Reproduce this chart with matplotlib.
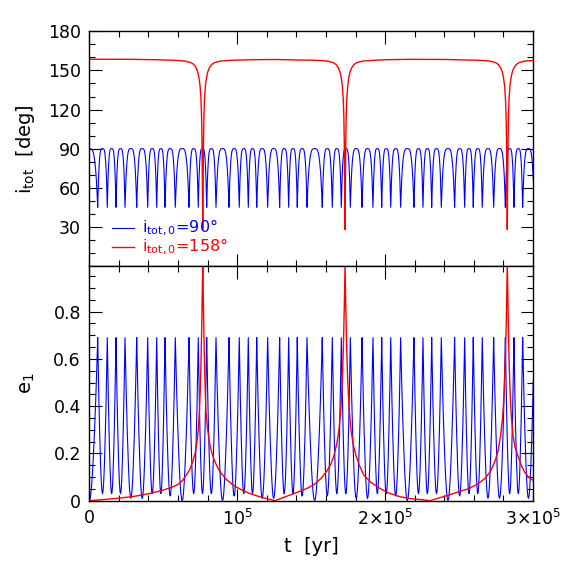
import matplotlib
matplotlib.use("Agg")
import matplotlib.pyplot as plt
import numpy as np
from matplotlib.ticker import MultipleLocator

plt.rcParams["font.family"] = ["DejaVu Sans"]
plt.rcParams["mathtext.fontset"] = "dejavusans"

# --- data (time in units of 1e3 yr) ---
# blue run (i_tot,0 = 90 deg): times of the e1 maxima
blue_peak_t = [5.68, 12.17, 18.05, 24.14, 32.05, 39.48, 45.57, 51.18, 58.15, 67.41,
               73.69, 79.37, 85.66, 94.45, 101.4, 107.5, 113.2, 120.6, 128.7, 134.8,
               140.6, 147.2, 157.5, 164.3, 170.4, 176.5, 184.4, 191.8, 197.7, 203.8,
               210.5, 219.5, 225.6, 231.5, 238.0, 247.0, 253.8, 259.6, 265.7, 273.4,
               281.3, 287.1, 293.0]
blue_edge_peaks = [-5.68, 300.8]          # cycles cut by the axis edges
blue_e_trough = [0.0,
                 0.03, 0.03, 0.03, 0.01, 0.01, 0.03, 0.03, 0.02, 0.0, 0.03,
                 0.03, 0.03, 0.0, 0.02, 0.03, 0.03, 0.01, 0.01, 0.03, 0.03,
                 0.02, 0.0, 0.02, 0.03, 0.03, 0.01, 0.01, 0.03, 0.03, 0.02,
                 0.0, 0.03, 0.03, 0.03, 0.0, 0.02, 0.03, 0.03, 0.01, 0.01,
                 0.03, 0.03,
                 0.01]
blue_e_max = 0.69
blue_i_top = 90.0
blue_i_bottom = 45.0

# shape of one half cycle (peak -> trough)
half_u = [0.0, 0.04, 0.08, 0.12, 0.16, 0.20, 0.25, 0.30, 0.35, 0.40, 0.45, 0.50]
half_e = [1.0, 0.86, 0.73, 0.61, 0.50, 0.40, 0.29, 0.19, 0.11, 0.05, 0.012, 0.0]
half_i = [1.0, 0.74, 0.53, 0.37, 0.25, 0.16, 0.08, 0.036, 0.012, 0.0025, 0.0, 0.0]

# red run (i_tot,0 = 158 deg)
red_e_t = [0, 10, 20.3, 30, 40.6, 50, 55, 59.8, 63, 65.4, 67.8, 69.9, 71.5, 72.8, 73.7,
           74.4, 75.0, 75.5, 75.9, 76.3, 76.7, 77.1, 77.5, 77.9, 78.4, 78.9, 80.0,
           81.6, 83.2, 85.0, 87.0, 89.5, 93.0, 97.4, 102.5, 108.6, 116.0, 125.6,
           134.0, 142.5, 147.5, 151.9, 156.5, 160.9, 163.3, 165.4, 167.3, 168.8,
           170.1, 171.1, 171.8, 172.4, 172.9, 173.4, 174.0, 174.7, 175.7, 176.9,
           178.4, 180.3, 182.6, 185.7, 190.5, 197.0, 203.0, 210.5, 218.0, 226.3,
           230.4, 236.0, 242.5, 249.0, 256.0, 262.0, 267.3, 271.0, 274.1, 276.4,
           278.1, 279.4, 280.4, 281.2, 281.9, 282.6, 283.3, 283.9, 284.6, 285.4,
           286.5, 287.9, 289.8, 292.0, 294.4, 297.0, 300.0]
red_e = [0.0, 0.005, 0.011, 0.018, 0.03, 0.045, 0.055, 0.068, 0.085, 0.107, 0.13,
         0.164, 0.2, 0.248, 0.3, 0.375, 0.46, 0.58, 0.7, 0.85, 0.998, 0.85, 0.7, 0.58,
         0.46, 0.375, 0.3, 0.234, 0.195, 0.164, 0.137, 0.114, 0.088, 0.065, 0.047,
         0.03, 0.015, 0.0,
         0.02, 0.04, 0.053, 0.068, 0.093, 0.128, 0.155, 0.19, 0.24, 0.30,
         0.39, 0.51, 0.65, 0.82, 0.998, 0.82, 0.65, 0.51, 0.39, 0.30,
         0.24, 0.19, 0.15, 0.107, 0.077, 0.05, 0.031, 0.016, 0.008, 0.003,
         0.0, 0.011, 0.023, 0.036, 0.05, 0.068, 0.093, 0.122, 0.164, 0.21,
         0.276, 0.35, 0.446, 0.57, 0.75, 0.998, 0.75, 0.57, 0.446, 0.35,
         0.276, 0.225, 0.19, 0.15, 0.12, 0.1, 0.086]
red_i_t = [0, 30, 45,
           56.7, 64.7, 68.7, 70.7, 72.2, 73.4, 74.2, 74.9, 75.5, 75.9, 76.2, 76.45,
           76.7, 76.95, 77.2, 77.5, 77.9, 78.5, 79.2, 80.0, 81.2, 82.7, 84.7, 88.7, 96.7,
           110, 125, 140,
           152.9, 160.9, 164.9, 166.9, 168.4, 169.6, 170.4, 171.1, 171.7, 172.1, 172.4,
           172.65, 172.9, 173.15, 173.4, 173.7, 174.1, 174.7, 175.4, 176.2, 177.4,
           178.9, 180.9, 184.9, 192.9,
           200, 215, 240, 255,
           262.6, 270.6, 274.6, 276.6, 278.1, 279.3, 280.1, 280.8, 281.4, 281.8, 282.1,
           282.35, 282.6, 282.85, 283.1, 283.4, 283.8, 284.4, 285.1, 285.9, 287.1,
           288.6, 290.6, 294.6, 300]
red_i = [158.6, 158.5, 158.2,
         157.8, 157.2, 156.0, 154.5, 152.0, 148.5, 144.0, 138.0, 128.0, 115.0, 95.0, 65.0,
         28.0, 65.0, 95.0, 115.0, 128.0, 138.0, 144.0, 148.5, 152.0, 154.5, 156.0,
         157.2, 157.8,
         158.2, 158.4, 158.0,
         157.8, 157.2, 156.0, 154.5, 152.0, 148.5, 144.0, 138.0, 128.0, 115.0, 95.0, 65.0,
         28.0, 65.0, 95.0, 115.0, 128.0, 138.0, 144.0, 148.5, 152.0, 154.5, 156.0,
         157.2, 157.8,
         158.2, 158.5, 158.4, 158.0,
         157.8, 157.2, 156.0, 154.5, 152.0, 148.5, 144.0, 138.0, 128.0, 115.0, 95.0, 65.0,
         28.0, 65.0, 95.0, 115.0, 128.0, 138.0, 144.0, 148.5, 152.0, 154.5, 156.0,
         157.2, 157.6]

# --- assemble blue curves cycle by cycle ---
peaks = [blue_edge_peaks[0]] + blue_peak_t + [blue_edge_peaks[1]]
full_u = half_u + [1 - u for u in reversed(half_u[:-1])]
full_e = half_e + list(reversed(half_e[:-1]))
full_i = half_i + list(reversed(half_i[:-1]))
tb, eb, ib = [], [], []
for p0, p1, lo in zip(peaks[:-1], peaks[1:], blue_e_trough):
    tb.extend(p0 + np.array(full_u) * (p1 - p0))
    eb.extend(lo + (blue_e_max - lo) * np.array(full_e))
    ib.extend(blue_i_top - (blue_i_top - blue_i_bottom) * np.array(full_i))
tb = np.array(tb) * 1e3

fig = plt.figure(figsize=(5.81, 5.81), dpi=100)
left, right = 0.1537, 0.9174
ax1 = fig.add_axes([left, 0.5422, right - left, 0.9461 - 0.5422])
ax2 = fig.add_axes([left, 0.1382, right - left, 0.5422 - 0.1382], sharex=ax1)

ax1.plot(tb, ib, color="blue", lw=0.8)
ax1.plot(np.array(red_i_t) * 1e3, red_i, color="red", lw=1.0)
ax2.plot(tb, eb, color="blue", lw=0.8)
ax2.plot(np.array(red_e_t) * 1e3, red_e, color="red", lw=1.0)

ax1.set_xlim(0, 3e5)
ax1.set_ylim(0, 180)
ax2.set_ylim(0, 0.993)

for ax in (ax1, ax2):
    ax.tick_params(which="both", direction="in", top=True, right=True, width=0.8,
                   labelsize=12.5, pad=6)
    ax.tick_params(which="major", length=9)
    ax.tick_params(which="minor", length=4.5)
    ax.xaxis.set_minor_locator(MultipleLocator(2e4))
    for s in ax.spines.values():
        s.set_linewidth(1.0)

ax1.set_yticks([0, 30, 60, 90, 120, 150, 180])
ax1.set_yticklabels(["", "30", "60", "90", "120", "150", "180"])
ax1.yaxis.set_minor_locator(MultipleLocator(10))
ax1.tick_params(labelbottom=False)

ax2.set_yticks([0, 0.2, 0.4, 0.6, 0.8])
ax2.set_yticklabels(["0", "0.2", "0.4", "0.6", "0.8"])
ax2.yaxis.set_minor_locator(MultipleLocator(0.05))
ax2.set_xticks([0, 1e5, 2e5, 3e5])
ax2.set_xticklabels(["0", r"$\mathregular{10^5}$", r"$\mathregular{2{\times}10^5}$",
                     r"$\mathregular{3{\times}10^5}$"])

ax1.set_ylabel(r"$\mathregular{i_{tot}}$  [deg]", fontsize=14, labelpad=8)
ax2.set_ylabel(r"$\mathregular{e_1}$", fontsize=14, labelpad=12)
ax2.set_xlabel("t  [yr]", fontsize=14, labelpad=6)

# legend drawn by hand
for yy, col, lw, txt in [(0.163, "blue", 0.8, "90°"), (0.082, "red", 1.0, "158°")]:
    ax1.plot([0.0505, 0.1014], [yy, yy], color=col, lw=lw, transform=ax1.transAxes)
    ax1.text(0.118, yy, r"$\mathregular{i_{tot,0}}$=" + txt, color=col, fontsize=11.5,
             va="center", ha="left", transform=ax1.transAxes)

fig.savefig("out.png", dpi=100)
